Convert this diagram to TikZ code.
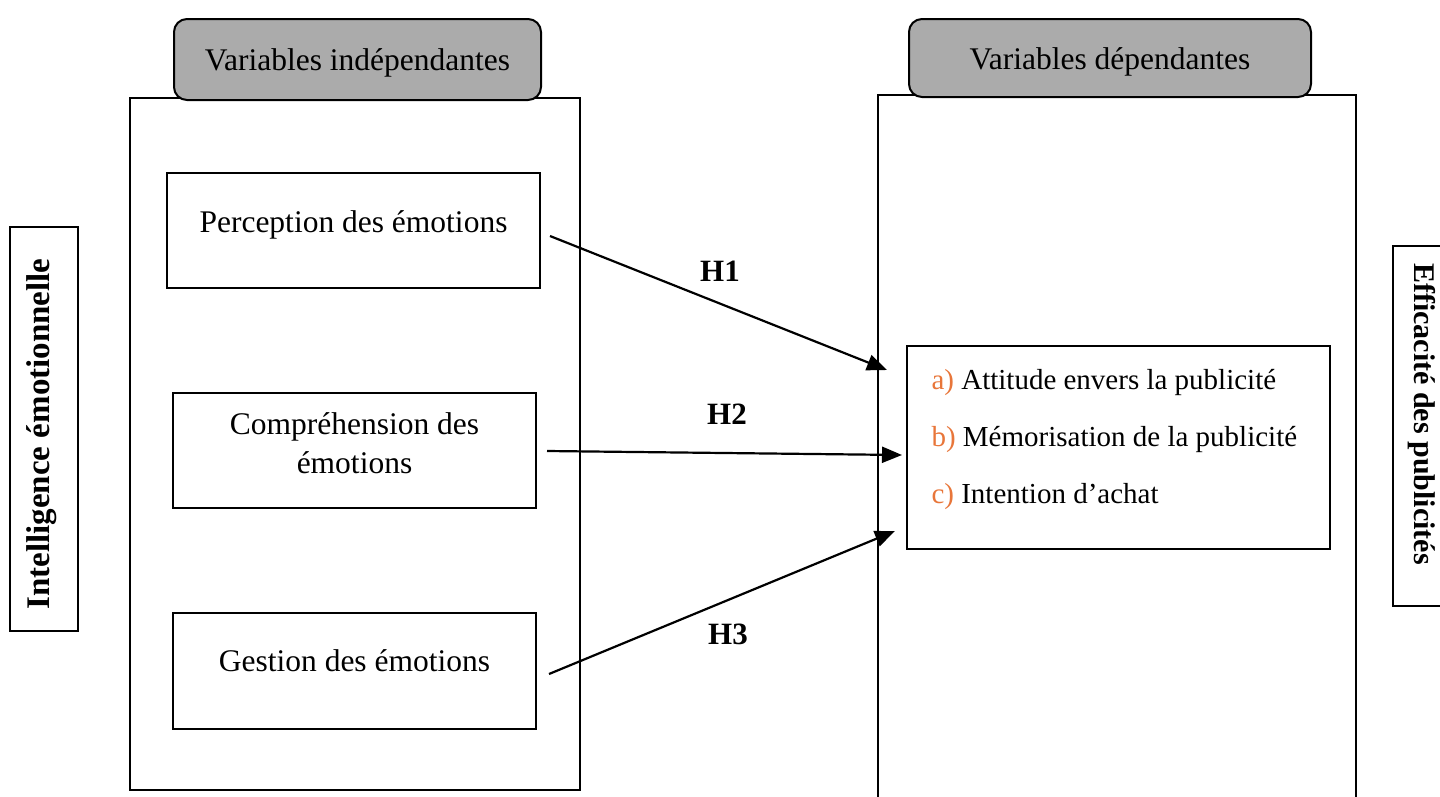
\documentclass[tikz,border=0pt]{standalone}
\usepackage{fontspec}
\setmainfont{Liberation Serif}
\usetikzlibrary{arrows.meta}
\definecolor{hdrgray}{HTML}{ABABAB}
\definecolor{letterorange}{HTML}{E8763A}
\begin{document}
\begin{tikzpicture}[x=1pt,y=-1pt,
  outerbox/.style={draw,line width=2pt},
  hdrbox/.style={draw,line width=2pt,fill=hdrgray,rounded corners=13pt},
  varbox/.style={draw,line width=2pt},
  vlabel/.style={draw,line width=2pt},
  txt/.style={font=\fontsize{31.5}{37}\selectfont},
  stxt/.style={font=\fontsize{29}{34}\selectfont},
  btxt/.style={font=\fontsize{33}{38}\selectfont\bfseries},
  arr/.style={line width=2.2pt,-{Triangle[length=20pt,width=16pt]}},
  hyp/.style={font=\fontsize{31}{36}\selectfont\bfseries}
]
\useasboundingbox (0,0) rectangle (1440,796);
\begin{scope}
\clip (0,0) rectangle (1440,796);
% outer boxes
\draw[outerbox] (130,98) rectangle (580,790);
\draw[outerbox] (878,95) rectangle (1356,810);
% headers
\node[hdrbox,minimum width=367pt,minimum height=81pt] (hL) at (357.5,59.5) {};
\node[txt,anchor=base] at (hL.center) [yshift=-11pt] {Variables indépendantes};
\node[hdrbox,minimum width=402pt,minimum height=78pt] (hR) at (1110,58) {};
\node[txt,anchor=base] at (hR.center) [yshift=-11pt] {Variables dépendantes};
% variable boxes
\node[varbox,minimum width=373pt,minimum height=115pt] (p) at (353.5,230.5) {};
\node[txt,anchor=base] at (353.5,232) {Perception des émotions};
\node[varbox,minimum width=363pt,minimum height=115pt] (c) at (354.5,450.5) {};
\node[txt,anchor=base] at (354.5,434) {Compréhension des};
\node[txt,anchor=base] at (354.5,473) {émotions};
\node[varbox,minimum width=363pt,minimum height=116pt] (g) at (354.5,671) {};
\node[txt,anchor=base] at (354.5,671) {Gestion des émotions};
% result box
\node[varbox,minimum width=423pt,minimum height=203pt] (r) at (1118.5,447.5) {};
\node[stxt,anchor=base west] at (928,389) {\textcolor{letterorange}{a)} Attitude envers la publicité};
\node[stxt,anchor=base west] at (928,446) {\textcolor{letterorange}{b)} Mémorisation de la publicité};
\node[stxt,anchor=base west] at (928,503) {\textcolor{letterorange}{c)} Intention d’achat};
% vertical labels
\node[vlabel,minimum width=404pt,minimum height=68pt,rotate=90] (ie) at (44,429) {};
\node[rotate=90,btxt] at (42,434) {Intelligence émotionnelle};
\node[vlabel,minimum width=360pt,minimum height=68pt,rotate=-90] (ep) at (1427,426) {};
\node[rotate=-90,font=\fontsize{30}{34}\selectfont\bfseries,anchor=mid] at (1417,414) {Efficacité des publicités};
% arrows
\coordinate (s1) at (550,236);
\coordinate (e1) at (887,370);
\coordinate (s2) at (547,451);
\coordinate (e2) at (902,455);
\coordinate (s3) at (549,674);
\coordinate (e3) at (895,531);
\draw[arr] (s1) -- (e1);
\draw[arr] (s2) -- (e2);
\draw[arr] (s3) -- (e3);
\node[hyp] (h1) at (720,271) {H1};
\node[hyp] (h2) at (727,414) {H2};
\node[hyp] (h3) at (728,634) {H3};
\end{scope}
\end{tikzpicture}
\end{document}
